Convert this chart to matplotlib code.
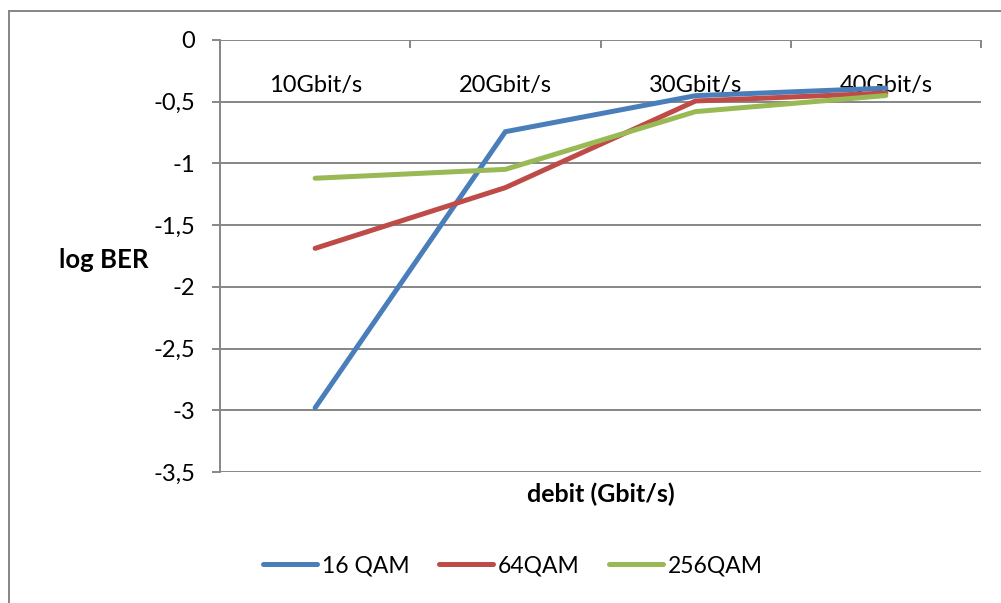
import numpy as np
import matplotlib
matplotlib.use("Agg")
import matplotlib.pyplot as plt
from matplotlib.lines import Line2D

plt.rcParams['font.family'] = ['Lato', 'DejaVu Sans']

categories = ["10Gbit/s", "20Gbit/s", "30Gbit/s", "40Gbit/s"]
qam16 = [-2.98, -0.743, -0.451, -0.39]
qam64 = [-1.688, -1.196, -0.494, -0.43]
qam256 = [-1.12, -1.048, -0.58, -0.45]
series_names = ["16 QAM", "64QAM", "256QAM"]
yticks = [0, -0.5, -1, -1.5, -2, -2.5, -3, -3.5]
ytick_labels = ["0", "-0,5", "-1", "-1,5", "-2", "-2,5", "-3", "-3,5"]

colors = ["#4A7EBB", "#BE4B48", "#98B954"]
grid_col = "#868686"

W, H = 1001, 603
fig = plt.figure(figsize=(W / 100, H / 100), dpi=100)
ax = fig.add_axes([220 / W, 1 - 472 / H, (981 - 220) / W, (472 - 40) / H])

x = np.arange(len(categories)) + 0.5
for vals, name, c in zip([qam16, qam64, qam256], series_names, colors):
    ax.plot(x, vals, color=c, lw=3.6, label=name, solid_capstyle='round',
            solid_joinstyle='miter')

ax.set_xlim(0, len(categories))
ax.set_ylim(-3.5, 0)
ax.set_yticks(yticks)
ax.set_yticklabels(ytick_labels, fontsize=17)
for y in yticks:
    ax.axhline(y, color=grid_col, lw=1.4, zorder=0)

# category labels sit under the top (value 0) axis
ax.xaxis.set_ticks_position('top')
ax.set_xticks(x)
ax.set_xticklabels(categories, fontsize=17)
ax.tick_params(axis='x', which='major', length=0, pad=-40)
ax.set_xticks(np.arange(len(categories) + 1), minor=True)
ax.tick_params(axis='x', which='minor', direction='in', length=6,
               width=1.4, color=grid_col)
ax.tick_params(axis='y', length=6, width=1.4, color=grid_col, pad=12)

for s in ['right', 'bottom', 'top']:
    ax.spines[s].set_visible(False)
ax.spines['left'].set_color(grid_col)
ax.spines['left'].set_linewidth(1.4)

fig.text(104 / W, 1 - 260 / H, "log BER", fontsize=18.5, fontweight='bold',
         ha='center', va='center')
fig.text(601 / W, 1 - 494 / H, "debit (Gbit/s)", fontsize=18,
         fontweight='bold', ha='center', va='center')

leg = fig.legend(loc='center', bbox_to_anchor=(513 / W, 1 - 566 / H),
                 ncol=3, frameon=False, fontsize=16.5, handlelength=2.35,
                 handletextpad=0.2, columnspacing=1.3)

# outer chart border (partly cropped)
fig.add_artist(Line2D([9 / W, 9 / W], [0, 1 - 11 / H], color=grid_col, lw=1.4))
fig.add_artist(Line2D([9 / W, 1], [1 - 11 / H, 1 - 11 / H], color=grid_col, lw=1.4))

fig.savefig("out.png", dpi=100)
